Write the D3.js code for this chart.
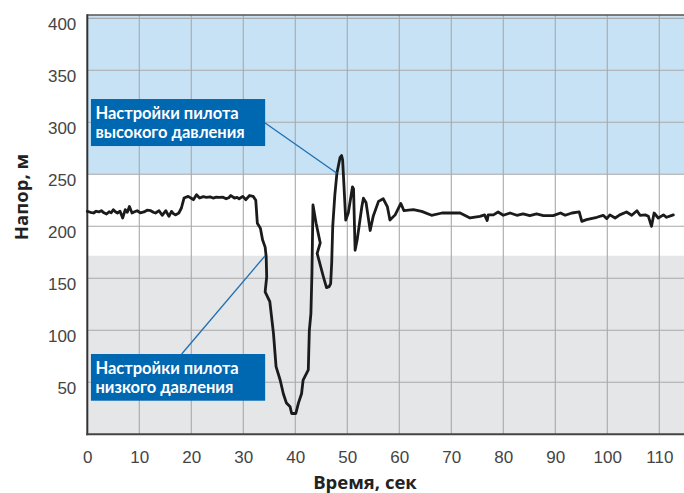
<!DOCTYPE html>
<html><head><meta charset="utf-8">
<script src="https://cdn.jsdelivr.net/npm/d3@7"></script>
<style>
html,body{margin:0;padding:0;background:#fff;}
svg{display:block;}
</style></head>
<body>
<svg id="chart" width="684" height="493"></svg>
<script>
// ---- data ----
const timeSec = [0,0.6,1.2,1.7,2.2,2.7,3.2,3.7,4.2,4.6,5.0,5.4,5.8,6.3,6.8,7.3,7.7,8.1,8.6,9.1,9.6,10.2,10.9,11.5,12.2,12.7,13.1,13.8,14.4,15.1,15.7,16.2,16.6,17.0,17.6,18.1,18.6,19.4,20.0,20.4,21.0,21.6,22.3,22.9,23.6,24.2,24.8,25.4,26.1,26.7,27.2,27.6,28.3,28.8,29.2,29.9,30.5,31.2,31.9,32.4,32.7,33.3,33.7,34.2,34.4,34.5,34.2,35.1,35.8,36.3,37.1,37.7,38.3,39.0,39.3,40.1,40.6,41.2,41.5,42.5,42.7,43.0,43.2,43.4,44.0,44.8,44.2,45.4,46.0,46.5,46.8,47.0,47.2,47.6,48.0,48.6,48.9,49.1,49.4,49.7,50.2,51.0,51.2,51.5,51.9,52.8,53.1,53.6,54.4,55.0,56.0,56.9,57.7,58.2,59.2,60.3,60.9,62.7,64.3,66.2,68.2,71.7,73.6,75.5,76.4,76.9,77.1,78.1,79.0,80.0,81.3,82.6,83.8,85.1,86.4,87.7,89.6,91.0,91.9,93.2,94.6,95.1,96.0,98.0,99.2,99.9,100.5,101.5,102.4,103.7,104.7,105.7,106.3,107.3,107.9,108.5,109.0,109.8,110.8,111.4,112.7];
const headM = [214.4,213.5,212.8,214.5,213.8,215,213,211.8,214,213,216,214,212.8,214.5,208,216,213.5,219,212.8,214,215,213,213.8,215.5,215,213.5,212.8,215,210.6,215,209.6,214.4,212,211,212.8,217.6,227.2,228.8,227,225.6,230.4,227.2,228.5,227.8,228.3,227.2,228,227.8,228,226.5,227.5,229.6,227.2,227.8,226.5,228.8,225.6,229.6,228.8,225,203,198,187,180,171,151.5,137,127.5,97,65,52,39,30,26.5,20,20,30,39,52,62,100,116,155,220.5,203,184,174,151.5,141,142,145,165,200,230,251,266,268,264,235,206,213,238,236,177,187,219,227,223,196,210,224,226.5,219,206,211,222,215,216,214.4,210.6,212.8,212.8,208,209.6,211,205.5,211,211,213.8,210.6,212.8,210.6,212,210.3,211.9,210.3,210.3,212.8,210.6,212.8,213.8,204.8,206.4,208.7,210.6,207.4,211,208,211,213.8,210.6,215,210.6,211,209.6,200,212.8,208,211,208.7,211];
const xTicks = [0,10,20,30,40,50,60,70,80,90,100,110];
const yTicks = [50,100,150,200,250,300,350,400];
const highZone = [250, 403.2];   // high pilot setting band
const lowZone = [0, 171.7];      // low pilot setting band
const highLabel = ["Настройки пилота","высокого давления"];
const lowLabel = ["Настройки пилота","низкого давления"];
const xTitle = "Время, сек";
const yTitle = "Напор, м";

// ---- layout ----
const svg = d3.select("#chart");
const L = 87.3, R = 684, T = 15, B = 434.3;
const x = d3.scaleLinear().domain([0, 114.75]).range([L, R]);
const y = d3.scaleLinear().domain([0, 403.2]).range([B, T]);

// zones
svg.append("rect").attr("x", L).attr("width", R - L)
  .attr("y", y(highZone[1])).attr("height", y(highZone[0]) - y(highZone[1]))
  .attr("fill", "#c6e2f4");
svg.append("rect").attr("x", L).attr("width", R - L)
  .attr("y", y(lowZone[1])).attr("height", y(lowZone[0]) - y(lowZone[1]))
  .attr("fill", "#e5e6e8");

// grid
const grid = svg.append("g").attr("stroke", "#a8a9ab").attr("stroke-width", 1.1);
grid.selectAll(".vx").data(xTicks.slice(1)).join("line")
  .attr("x1", d => x(d)).attr("x2", d => x(d)).attr("y1", T).attr("y2", B);
grid.selectAll(".hy").data(yTicks).join("line")
  .attr("x1", L).attr("x2", R).attr("y1", d => y(d)).attr("y2", d => y(d));

// axes via d3
const xAxis = d3.axisBottom(x).tickValues(xTicks).tickSize(0).tickPadding(17);
const gx = svg.append("g").attr("transform", `translate(0,${B})`).call(xAxis);
gx.select(".domain").remove();
gx.selectAll("text").attr("font-family", "Liberation Sans, Arial, sans-serif")
  .attr("font-size", 17).attr("fill", "#444");

const yAxis = d3.axisLeft(y).tickValues(yTicks).tickSize(0).tickPadding(11);
const gy = svg.append("g").attr("transform", `translate(${L},0)`).call(yAxis);
gy.select(".domain").remove();
gy.selectAll("text").attr("font-family", "Liberation Sans, Arial, sans-serif")
  .attr("font-size", 17).attr("fill", "#444").attr("dy", "0.66em");

// frame
svg.append("line").attr("x1", L).attr("x2", R).attr("y1", T).attr("y2", T)
  .attr("stroke", "#555").attr("stroke-width", 1.5);
svg.append("line").attr("x1", L).attr("x2", L).attr("y1", T - 0.7).attr("y2", B + 1)
  .attr("stroke", "#333").attr("stroke-width", 2);
svg.append("line").attr("x1", L - 1).attr("x2", R).attr("y1", B).attr("y2", B)
  .attr("stroke", "#444").attr("stroke-width", 2);

// data line
const line = d3.line().x((d, i) => x(timeSec[i])).y(d => y(d)).curve(d3.curveLinear);
svg.append("path").datum(headM).attr("d", line)
  .attr("fill", "none").attr("stroke", "#1b1b1b").attr("stroke-width", 2.8)
  .attr("stroke-linejoin", "round").attr("stroke-linecap", "round");

// annotations
function callout(box, lines, from, to) {
  const g = svg.append("g");
  g.append("line").attr("x1", x(from[0])).attr("y1", y(from[1]))
    .attr("x2", x(to[0])).attr("y2", y(to[1]))
    .attr("stroke", "#1f6fb2").attr("stroke-width", 1.3);
  g.append("rect").attr("x", x(box[0])).attr("y", y(box[3]))
    .attr("width", x(box[1]) - x(box[0])).attr("height", y(box[2]) - y(box[3]))
    .attr("fill", "#0067b1");
  lines.forEach((s, i) => g.append("text")
    .attr("x", x(box[0]) + 4.5).attr("y", y(box[3]) + 19.5 + i * 19)
    .attr("fill", "#fff").attr("font-family", "Lato, sans-serif")
    .attr("font-weight", 700).attr("font-size", 16.5).text(s));
}
callout([0.7, 34.2, 277.2, 322.4], highLabel, [34.2, 299.3], [48.0, 251]);
callout([0.7, 34.2, 32.3, 77.2], lowLabel, [18.15, 77.2], [34.2, 171.7]);

// titles
svg.append("text").attr("x", 365).attr("y", 489).attr("text-anchor", "middle")
  .attr("font-family", "Open Sans, sans-serif").attr("font-weight", 700)
  .attr("font-size", 18.5).attr("fill", "#222").text(xTitle);
svg.append("text").attr("transform", "translate(28,197) rotate(-90)")
  .attr("text-anchor", "middle")
  .attr("font-family", "Open Sans, sans-serif").attr("font-weight", 700)
  .attr("font-size", 18.5).attr("fill", "#222").text(yTitle);
</script>
</body></html>
